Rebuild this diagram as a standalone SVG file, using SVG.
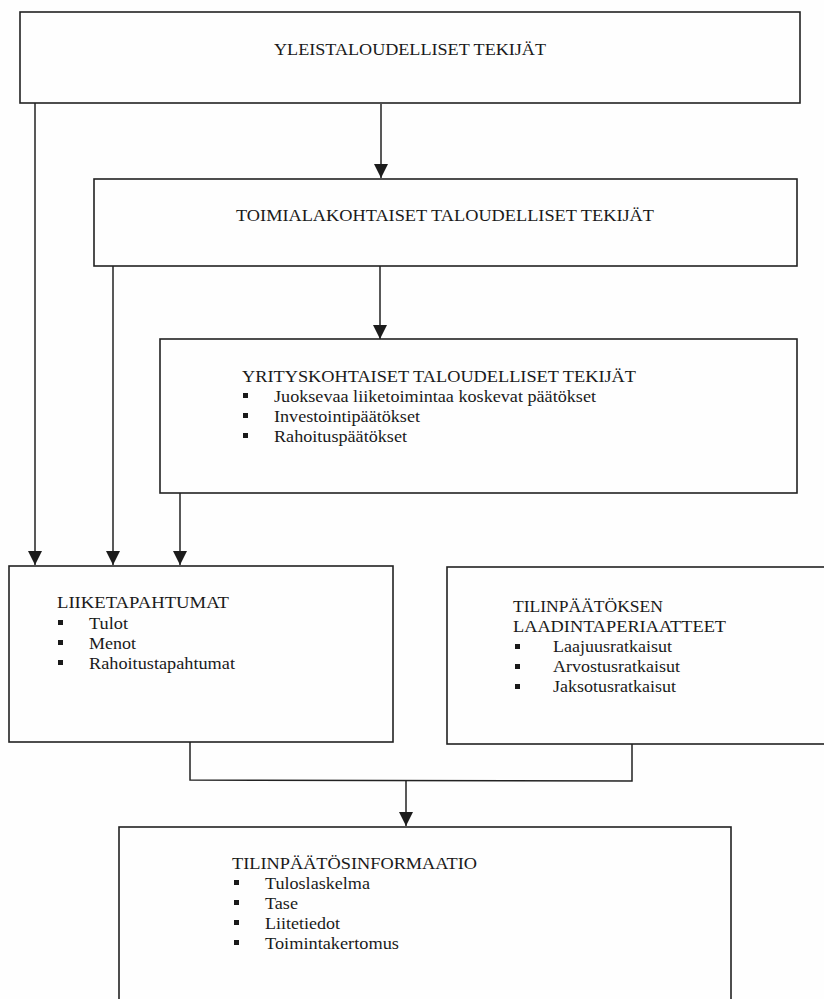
<svg xmlns="http://www.w3.org/2000/svg" width="824" height="999" viewBox="0 0 824 999">
<defs>
<marker id="arr" markerUnits="userSpaceOnUse" markerWidth="14" markerHeight="14" viewBox="0 0 12 12" refX="12" refY="6" orient="auto">
<path d="M0,0 L12,6 L0,12 Z" fill="#1c1c1c"/>
</marker>
<style>
.box{fill:none;stroke:#222;stroke-width:1.6}
.t{font-family:"Liberation Serif","Times New Roman",serif;font-size:17.5px;fill:#1a1a1a}
.c{fill:none;stroke:#222;stroke-width:1.5}
.b{fill:#1a1a1a}
</style>
</defs>
<rect width="824" height="999" fill="#fefefe"/>
<g id="connectors">
<line class="c" x1="381" y1="104" x2="381" y2="178" marker-end="url(#arr)"/>
<line class="c" x1="35" y1="103" x2="35" y2="565" marker-end="url(#arr)"/>
<line class="c" x1="113" y1="266" x2="113" y2="565" marker-end="url(#arr)"/>
<line class="c" x1="380" y1="266" x2="380" y2="339" marker-end="url(#arr)"/>
<line class="c" x1="180" y1="493" x2="180" y2="565" marker-end="url(#arr)"/>
<polyline class="c" points="190,742 190,780 632,781 632,744"/>
<line class="c" x1="406" y1="780" x2="406" y2="826" marker-end="url(#arr)"/>
</g>
<g id="yleistaloudelliset">
<rect class="box" x="20" y="12" width="780" height="91"/>
<text class="t" x="274" y="55" textLength="272" lengthAdjust="spacingAndGlyphs">YLEISTALOUDELLISET TEKIJÄT</text>
</g>
<g id="toimialakohtaiset">
<rect class="box" x="94" y="179" width="703" height="87"/>
<text class="t" x="236" y="221" textLength="418" lengthAdjust="spacingAndGlyphs">TOIMIALAKOHTAISET TALOUDELLISET TEKIJÄT</text>
</g>
<g id="yrityskohtaiset">
<rect class="box" x="160" y="339" width="637" height="154"/>
<text class="t" x="242" y="382" textLength="394" lengthAdjust="spacingAndGlyphs">YRITYSKOHTAISET TALOUDELLISET TEKIJÄT</text>
<rect class="b" x="243" y="393" width="5" height="5"/>
<rect class="b" x="243" y="413" width="5" height="5"/>
<rect class="b" x="243" y="433" width="5" height="5"/>
<text class="t" x="274" y="402" textLength="322" lengthAdjust="spacingAndGlyphs">Juoksevaa liiketoimintaa koskevat päätökset</text>
<text class="t" x="274" y="422" textLength="146" lengthAdjust="spacingAndGlyphs">Investointipäätökset</text>
<text class="t" x="274" y="442" textLength="133" lengthAdjust="spacingAndGlyphs">Rahoituspäätökset</text>
</g>
<g id="liiketapahtumat">
<rect class="box" x="9" y="566" width="384" height="176"/>
<text class="t" x="57" y="608" textLength="172" lengthAdjust="spacingAndGlyphs">LIIKETAPAHTUMAT</text>
<rect class="b" x="58" y="620" width="5" height="5"/>
<rect class="b" x="58" y="640" width="5" height="5"/>
<rect class="b" x="58" y="660" width="5" height="5"/>
<text class="t" x="89" y="629" textLength="39" lengthAdjust="spacingAndGlyphs">Tulot</text>
<text class="t" x="89" y="649" textLength="47" lengthAdjust="spacingAndGlyphs">Menot</text>
<text class="t" x="89" y="669" textLength="146" lengthAdjust="spacingAndGlyphs">Rahoitustapahtumat</text>
</g>
<g id="laadintaperiaatteet">
<rect class="box" x="447" y="567" width="390" height="177"/>
<text class="t" x="513" y="612" textLength="150" lengthAdjust="spacingAndGlyphs">TILINPÄÄTÖKSEN</text>
<text class="t" x="513" y="632" textLength="213" lengthAdjust="spacingAndGlyphs">LAADINTAPERIAATTEET</text>
<rect class="b" x="515" y="644" width="5" height="5"/>
<rect class="b" x="515" y="664" width="5" height="5"/>
<rect class="b" x="515" y="684" width="5" height="5"/>
<text class="t" x="553" y="652" textLength="119" lengthAdjust="spacingAndGlyphs">Laajuusratkaisut</text>
<text class="t" x="553" y="672" textLength="127" lengthAdjust="spacingAndGlyphs">Arvostusratkaisut</text>
<text class="t" x="553" y="692" textLength="123" lengthAdjust="spacingAndGlyphs">Jaksotusratkaisut</text>
</g>
<g id="tilinpaatosinformaatio">
<rect class="box" x="119" y="827" width="612" height="200"/>
<text class="t" x="232" y="869" textLength="245" lengthAdjust="spacingAndGlyphs">TILINPÄÄTÖSINFORMAATIO</text>
<rect class="b" x="234" y="880" width="5" height="5"/>
<rect class="b" x="234" y="900" width="5" height="5"/>
<rect class="b" x="234" y="920" width="5" height="5"/>
<rect class="b" x="234" y="940" width="5" height="5"/>
<text class="t" x="265" y="889" textLength="105" lengthAdjust="spacingAndGlyphs">Tuloslaskelma</text>
<text class="t" x="265" y="909" textLength="33" lengthAdjust="spacingAndGlyphs">Tase</text>
<text class="t" x="265" y="929" textLength="75" lengthAdjust="spacingAndGlyphs">Liitetiedot</text>
<text class="t" x="265" y="949" textLength="134" lengthAdjust="spacingAndGlyphs">Toimintakertomus</text>
</g>
</svg>
